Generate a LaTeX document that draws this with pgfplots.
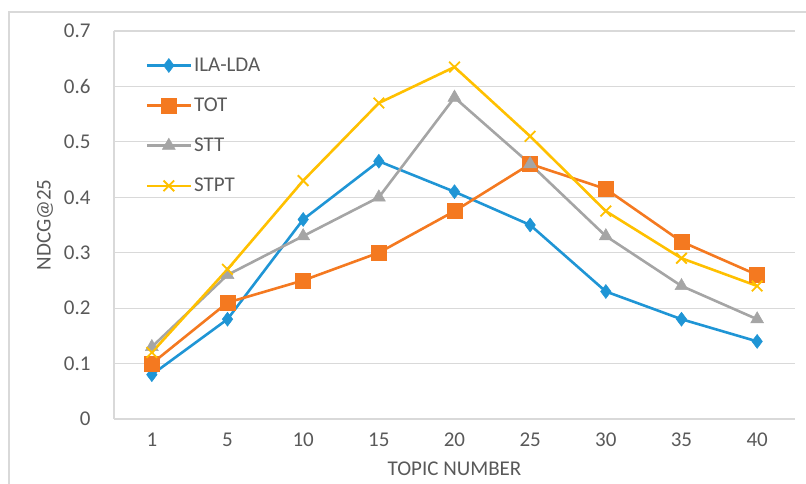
\documentclass[border=0pt]{standalone}
\usepackage{fontspec}
\setmainfont{Carlito}
\usepackage{pgfplots}
\pgfplotsset{compat=1.18}
\definecolor{cblue}{HTML}{1F95D5}
\definecolor{corange}{HTML}{F47920}
\definecolor{cgray}{HTML}{A5A5A5}
\definecolor{cyellow}{HTML}{FFC000}
\definecolor{gridgray}{HTML}{D9D9D9}
\definecolor{txtgray}{HTML}{595959}
\begin{document}
\begin{tikzpicture}
\useasboundingbox (-114pt,-65pt) rectangle (692pt,419pt);
\draw[gridgray, line width=1.2pt] (-105pt,-80pt) -- (-105pt,407pt) -- (710pt,407pt);
\begin{axis}[
  at={(0pt,0pt)}, anchor=south west,
  scale only axis, width=681pt, height=388pt,
  xmin=-0.5, xmax=8.5, ymin=0, ymax=0.7,
  xtick={0,...,8}, xticklabels={1,5,10,15,20,25,30,35,40},
  ytick={0,0.1,0.2,0.3,0.4,0.5,0.6,0.7},
  yticklabel style={/pgf/number format/fixed, /pgf/number format/precision=1, xshift=-20pt},
  xticklabel style={yshift=-10pt},
  /pgf/number format/assume math mode=true,
  tick label style={font=\fontsize{21}{25}\selectfont, text=txtgray},
  major tick length=0pt,
  ymajorgrids, grid style={gridgray, line width=1.2pt},
  axis x line*=bottom, axis y line*=left,
  axis line style={-, gridgray, line width=1.2pt},
  xlabel={TOPIC NUMBER}, ylabel={NDCG@25},
  label style={font=\fontsize{21}{25}\selectfont, text=txtgray},
  xlabel style={at={([yshift=-50pt]axis description cs:0.5,0)}, anchor=center},
  ylabel style={at={([xshift=-69pt]axis description cs:0,0.5)}, anchor=center, rotate=0},
  legend style={at={(axis description cs:0.046,0.936)}, anchor=north west, draw=none, fill=none,
    font=\fontsize{21}{25}\selectfont, text=txtgray, row sep=21pt, inner sep=0pt},
  legend cell align=left,
  legend image code/.code={\draw[mark repeat=2,mark phase=2,#1] plot coordinates {(0pt,0pt) (22pt,0pt) (44pt,0pt)};},
  every axis plot/.append style={line width=2.6pt},
]
\addplot[cblue, mark=diamond*, mark size=7pt, mark options={solid, line width=0.5pt}] coordinates {
(0,0.08) (1,0.18) (2,0.36) (3,0.465) (4,0.41) (5,0.35) (6,0.23) (7,0.18) (8,0.14)};
\addlegendentry{ILA-LDA}
\addplot[corange, mark=square*, mark size=7.5pt, mark options={solid, line width=0.5pt}] coordinates {
(0,0.10) (1,0.21) (2,0.25) (3,0.30) (4,0.375) (5,0.46) (6,0.415) (7,0.32) (8,0.26)};
\addlegendentry{TOT}
\addplot[cgray, mark=triangle*, mark size=7.5pt, mark options={solid, line width=0.5pt}] coordinates {
(0,0.13) (1,0.26) (2,0.33) (3,0.40) (4,0.58) (5,0.46) (6,0.33) (7,0.24) (8,0.18)};
\addlegendentry{STT}
\addplot[cyellow, mark=x, mark size=7.5pt, mark options={solid, line width=1.8pt}] coordinates {
(0,0.12) (1,0.27) (2,0.43) (3,0.57) (4,0.635) (5,0.51) (6,0.375) (7,0.29) (8,0.24)};
\addlegendentry{STPT}
\end{axis}
\end{tikzpicture}
\end{document}
